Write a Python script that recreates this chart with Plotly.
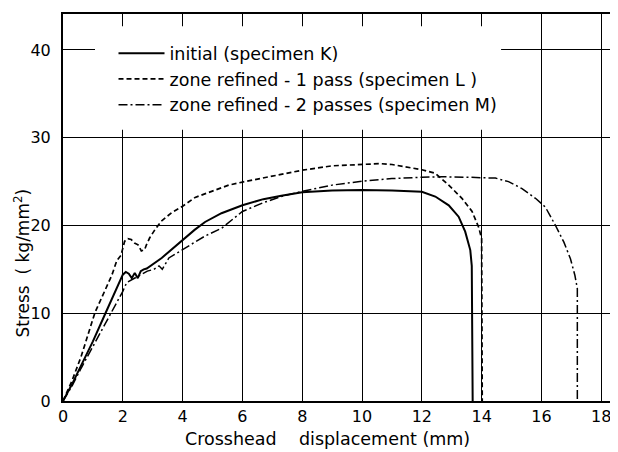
import plotly.graph_objects as go

# ---- data ----
k_x = [0, 0.3, 0.6, 1.0, 1.42, 2.0, 2.1, 2.2, 2.3, 2.4, 2.5, 2.6, 2.7, 2.8, 3.3, 4.0, 4.4, 4.75,
       5.3, 6.0, 6.7, 7.3, 8.0, 9.0, 10.0, 11.0, 12.0, 12.45, 12.9, 13.23, 13.45, 13.62, 13.67, 13.7]
k_y = [0, 1.9, 4.0, 6.8, 10.0, 14.4, 14.7, 14.5, 14.0, 14.6, 14.0, 14.8, 15.0, 15.1, 16.3, 18.4, 19.5, 20.4,
       21.4, 22.3, 23.0, 23.4, 23.8, 24.0, 24.05, 24.0, 23.85, 23.3, 22.3, 21.0, 19.3, 17.2, 15.4, 0]

l_x = [0, 0.3, 0.6, 1.07, 1.63, 1.8, 1.94, 2.06, 2.17, 2.28, 2.39, 2.51, 2.62, 2.73, 2.79, 2.9, 3.07,
       3.29, 3.63, 4.0, 4.42, 4.98, 5.54, 6.0, 6.7, 8.0, 9.0, 10.0, 10.6, 11.0, 11.4, 12.0, 12.45,
       12.9, 13.34, 13.68, 13.9, 14.0, 14.02]
l_y = [0, 2.3, 5.0, 10.1, 14.3, 16.0, 16.6, 18.2, 18.5, 18.4, 18.0, 17.8, 17.1, 17.25, 17.8, 18.6, 19.5,
       20.5, 21.45, 22.2, 23.2, 23.9, 24.6, 24.95, 25.4, 26.3, 26.8, 27.0, 27.05, 26.95, 26.7, 26.35, 25.95,
       24.6, 23.1, 21.6, 19.8, 18.5, 0]

m_x = [0, 0.3, 0.6, 1.0, 1.58, 2.0, 2.13, 2.43, 2.82, 3.04, 3.21, 3.32, 3.43, 3.54, 4.0, 4.75, 5.31,
       6.0, 6.7, 7.3, 8.0, 9.0, 10.0, 11.0, 12.0, 12.67, 13.5, 14.46, 14.9, 15.35, 15.8, 16.13, 16.47,
       16.75, 16.97, 17.12, 17.2, 17.2]
m_y = [0, 1.7, 3.7, 6.2, 10.0, 12.5, 13.5, 14.1, 14.8, 15.0, 15.4, 15.0, 15.6, 16.3, 17.25, 18.8, 19.7,
       21.6, 22.6, 23.3, 23.9, 24.6, 25.05, 25.35, 25.5, 25.55, 25.5, 25.4, 25.0, 24.2, 23.1, 22.1, 20.0,
       18.1, 16.2, 14.3, 12.8, 0]

names = ["initial (specimen K)",
         "zone refined - 1 pass (specimen L )",
         "zone refined - 2 passes (specimen M)"]

x_ticks = [0, 2, 4, 6, 8, 10, 12, 14, 16, 18]
y_ticks = [0, 10, 20, 30, 40]

FONT = "DejaVu Sans"

fig = go.Figure()
fig.add_trace(go.Scatter(x=k_x, y=k_y, mode="lines", name=names[0], legendgroup="k",
                         line=dict(color="black", width=2, dash="solid")))
fig.add_trace(go.Scatter(x=l_x, y=l_y, mode="lines", name=names[1], legendgroup="l",
                         line=dict(color="black", width=1.7, dash="5px,3px")))
fig.add_trace(go.Scatter(x=m_x, y=m_y, mode="lines", name=names[2], legendgroup="m",
                         line=dict(color="black", width=1.5, dash="9px,3px,2px,3px")))

# white panel behind the legend (hides gridlines, as in the original)
fig.add_shape(type="rect", xref="x", yref="y", x0=1.07, x1=14.65, y0=30.9, y1=42.7,
              fillcolor="white", line=dict(width=0), layer="between")

# the page adds an 8px body margin, so the figure is 8px smaller than the window
fig.update_layout(
    width=610, height=444,
    margin=dict(l=55, r=0, t=6, b=51),
    paper_bgcolor="white", plot_bgcolor="white",
    font=dict(family=FONT, size=16, color="black"),
    showlegend=True,
    legend=dict(x=0.091, y=0.945, xanchor="left", yanchor="top",
                bgcolor="rgba(0,0,0,0)", borderwidth=0, itemwidth=46,
                tracegroupgap=0, font=dict(family=FONT, size=17.5, color="black")),
    xaxis=dict(range=[0, 18.56], tickvals=x_ticks, showgrid=True, gridcolor="black", gridwidth=1.3,
               showline=True, linecolor="black", linewidth=2, mirror=True, zeroline=False,
               ticks="", ticklabelstandoff=0, tickfont=dict(size=16)),
    yaxis=dict(range=[0, 44.1], tickvals=y_ticks, showgrid=True, gridcolor="black", gridwidth=1.3,
               showline=True, linecolor="black", linewidth=2, mirror=False, zeroline=False,
               ticks="", ticklabelstandoff=7, tickfont=dict(size=16)),
    annotations=[
        dict(text="Crosshead&nbsp;&nbsp;&nbsp;&nbsp;displacement (mm)", xref="paper", yref="paper",
             x=0.476, y=-0.099, xanchor="center", yanchor="middle", showarrow=False,
             font=dict(size=17.5)),
        dict(text="Stress&nbsp; ( kg/mm<sup>2</sup>)", xref="paper", yref="paper", x=-0.074, y=0.3575,
             xanchor="center", yanchor="middle", textangle=-90, showarrow=False, font=dict(size=17)),
    ],
)

fig.write_html("out.html")
